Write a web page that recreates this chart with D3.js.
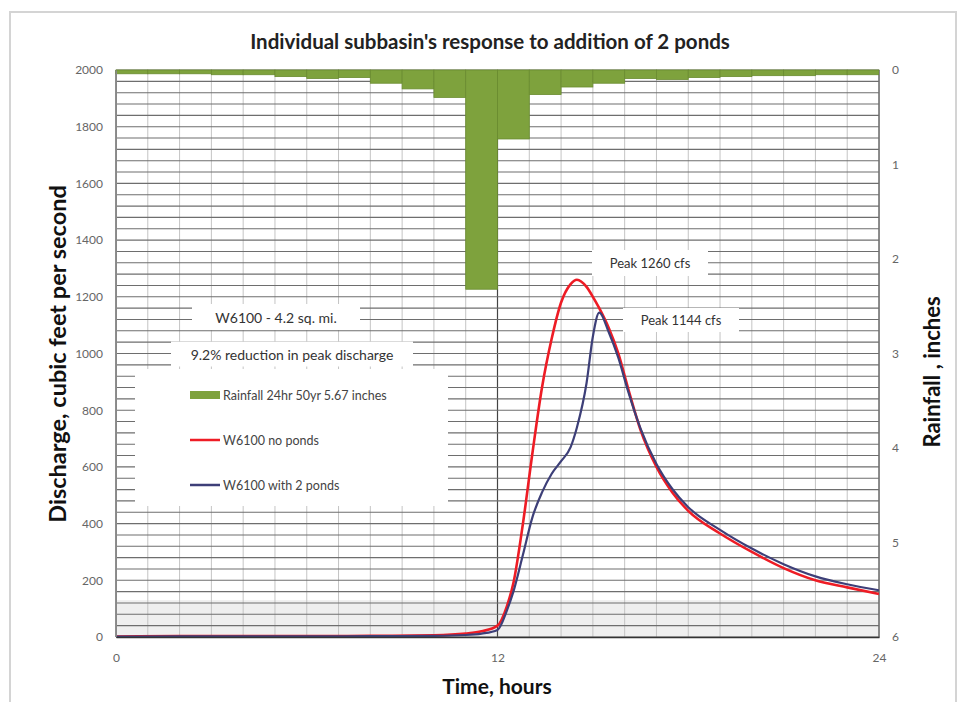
<!DOCTYPE html>
<html>
<head>
<meta charset="utf-8">
<script src="https://cdn.jsdelivr.net/npm/d3@7"></script>
<style>
  body { margin: 0; background: #fff; }
  text { font-family: Lato, "Open Sans", sans-serif; }
</style>
</head>
<body>
<svg id="chart" width="958" height="702"></svg>
<script>
// hourly rainfall, inches (hour 0-1 ... 23-24)
const rainHours = d3.range(0, 24);
const rainfall = [0.04, 0.04, 0.04, 0.05, 0.05, 0.07, 0.09, 0.08, 0.14, 0.20, 0.29, 2.32,
                  0.73, 0.26, 0.18, 0.14, 0.09, 0.10, 0.08, 0.07, 0.06, 0.06, 0.05, 0.05];

// hydrograph sample times, hours
const times = [0, 2, 4, 6, 8, 10, 11, 11.5, 12, 12.3, 12.5, 12.8, 13.1, 13.4, 13.7, 14.0, 14.3, 14.5,
               14.8, 15.0, 15.2, 15.5, 15.8, 16.1, 16.5, 17.0, 17.5, 18, 19, 20, 21, 22, 23, 24];
// discharge, cfs
const noPonds = [2, 3, 3, 3, 4, 6, 12, 20, 40, 110, 190, 400, 650, 880, 1050, 1180, 1245, 1260,
                 1235, 1200, 1160, 1090, 1000, 880, 730, 600, 510, 445, 365, 300, 243, 200, 175, 152];
const withPonds = [1, 2, 2, 2, 3, 4, 7, 12, 25, 95, 160, 290, 423, 510, 575, 620, 670, 740,
                   895, 1060, 1144, 1075, 985, 870, 735, 610, 522, 458, 378, 312, 257, 214, 186, 165];

const leftTicks = d3.range(0, 2001, 200);
const rightTicks = [0, 1, 2, 3, 4, 5, 6];
const timeTicks = [0, 12, 24];

const legendItems = ["Rainfall 24hr 50yr 5.67 inches", "W6100 no ponds", "W6100 with 2 ponds"];

var svg = d3.select("#chart");

// 外框
svg.append("rect")
  .attr("x", 10).attr("y", 12)
  .attr("width", 946).attr("height", 700)
  .attr("fill", "none")
  .attr("stroke", "#d4d4d4")
  .attr("stroke-width", 2);

let pLeft = 116, pRight = 879, pTop = 70, pBottom = 637;

let x = d3.scaleLinear().domain([0, 24]).range([pLeft, pRight]);
let yL = d3.scaleLinear().domain([0, 2000]).range([pBottom, pTop]);
let yR = d3.scaleLinear().domain([0, 6]).range([pTop, pBottom]);

let plot = svg.append("g");

// light grey band near the bottom
plot.append("rect")
  .attr("x", pLeft).attr("y", yL(130))
  .attr("width", pRight - pLeft).attr("height", yL(0) - yL(130))
  .attr("fill", "#efefef");

// vertical gridlines (every hour)
plot.append("g")
  .selectAll("line")
  .data(d3.range(0, 25))
  .enter()
  .append("line")
  .attr("x1", d => x(d)).attr("x2", d => x(d))
  .attr("y1", pTop).attr("y2", pBottom)
  .attr("stroke", d => d % 12 === 0 ? "#444" : "#c4c4c4")
  .attr("stroke-width", d => d % 12 === 0 ? 1.2 : 1);

// horizontal gridlines (every 40 cfs)
plot.append("g")
  .selectAll("line")
  .data(d3.range(0, 2001, 40))
  .enter()
  .append("line")
  .attr("x1", pLeft).attr("x2", pRight)
  .attr("y1", d => yL(d)).attr("y2", d => yL(d))
  .attr("stroke", "#6e6e6e")
  .attr("stroke-width", 1.1);

// rainfall bars hanging from the top
plot.append("g")
  .selectAll("rect")
  .data(rainHours)
  .enter()
  .append("rect")
  .attr("x", d => x(d))
  .attr("y", yR(0))
  .attr("width", d => x(d + 1) - x(d))
  .attr("height", d => yR(rainfall[d]) - yR(0))
  .attr("fill", "#7ea23d")
  .attr("stroke", "#6a8c30")
  .attr("stroke-width", 0.8);

// white label boxes that hide the gridlines
function labelBox(cx, cy, w, h, txt, size) {
  plot.append("rect")
    .attr("x", cx - w / 2).attr("y", cy - h / 2)
    .attr("width", w).attr("height", h)
    .attr("fill", "#fff");
  plot.append("text")
    .attr("x", cx).attr("y", cy)
    .attr("text-anchor", "middle")
    .attr("dominant-baseline", "central")
    .attr("font-size", size)
    .attr("fill", "#333")
    .text(txt);
}
labelBox(276, 317, 168, 26, "W6100 -  4.2 sq. mi.", 14);
labelBox(292, 354, 242, 25, "9.2% reduction in peak discharge", 14);
labelBox(650, 263, 116, 26, "Peak 1260 cfs", 13);
labelBox(681, 320, 116, 24, "Peak 1144 cfs", 13);

// legend box
let legend = plot.append("g");
legend.append("rect")
  .attr("x", 135).attr("y", 369)
  .attr("width", 313).attr("height", 137)
  .attr("fill", "#fff");

let legendY = [395, 440, 485];
legend.append("rect")
  .attr("x", 190).attr("y", legendY[0] - 4)
  .attr("width", 30).attr("height", 8)
  .attr("fill", "#7ea23d");
legend.append("line")
  .attr("x1", 190).attr("x2", 220)
  .attr("y1", legendY[1]).attr("y2", legendY[1])
  .attr("stroke", "#ee1c25").attr("stroke-width", 2.5);
legend.append("line")
  .attr("x1", 190).attr("x2", 220)
  .attr("y1", legendY[2]).attr("y2", legendY[2])
  .attr("stroke", "#3d3f78").attr("stroke-width", 2.5);
legend.selectAll(".ltxt")
  .data(legendItems)
  .enter()
  .append("text")
  .attr("x", 223)
  .attr("y", (d, i) => legendY[i])
  .attr("dominant-baseline", "central")
  .attr("font-size", 12.5)
  .attr("fill", "#444")
  .text(d => d);

// hydrograph lines
let line = d3.line()
  .x((d, i) => x(times[i]))
  .y(d => yL(d))
  .curve(d3.curveMonotoneX);

plot.append("path")
  .attr("d", line(noPonds))
  .attr("fill", "none")
  .attr("stroke", "#ee1c25")
  .attr("stroke-width", 2.6);

plot.append("path")
  .attr("d", line(withPonds))
  .attr("fill", "none")
  .attr("stroke", "#3d3f78")
  .attr("stroke-width", 2.2);

// axes
let axL = svg.append("g")
  .attr("transform", `translate(${pLeft},0)`)
  .call(d3.axisLeft(yL).tickValues(leftTicks).tickFormat(d3.format("d")).tickSize(0).tickPadding(13));
let axR = svg.append("g")
  .attr("transform", `translate(${pRight},0)`)
  .call(d3.axisRight(yR).tickValues(rightTicks).tickFormat(d3.format("d")).tickSize(0).tickPadding(13));
let axB = svg.append("g")
  .attr("transform", `translate(0,${pBottom})`)
  .call(d3.axisBottom(x).tickValues(timeTicks).tickFormat(d3.format("d")).tickSize(0).tickPadding(16));

[axL, axR, axB].forEach(a => {
  a.select(".domain").attr("stroke", "#888");
  a.selectAll("text")
    .attr("font-family", "Lato, sans-serif")
    .attr("font-size", 12)
    .attr("fill", "#666");
});
axB.select(".domain").attr("stroke", "#333").attr("stroke-width", 1.5);

// titles
svg.append("text")
  .attr("x", 490).attr("y", 49)
  .attr("text-anchor", "middle")
  .attr("font-size", 20.5)
  .attr("font-weight", "bold")
  .attr("fill", "#222")
  .text("Individual subbasin's response to addition of 2 ponds");

svg.append("text")
  .attr("transform", "translate(66,354) rotate(-90)")
  .attr("text-anchor", "middle")
  .attr("font-size", 23.5)
  .attr("font-weight", "bold")
  .attr("fill", "#111")
  .text("Discharge, cubic feet per second");

svg.append("text")
  .attr("transform", "translate(940,372) rotate(-90)")
  .attr("text-anchor", "middle")
  .attr("font-size", 22)
  .attr("font-weight", "bold")
  .attr("fill", "#111")
  .text("Rainfall , inches");

svg.append("text")
  .attr("x", 497).attr("y", 694)
  .attr("text-anchor", "middle")
  .attr("font-size", 21)
  .attr("font-weight", "bold")
  .attr("fill", "#111")
  .text("Time, hours");
</script>
</body>
</html>
